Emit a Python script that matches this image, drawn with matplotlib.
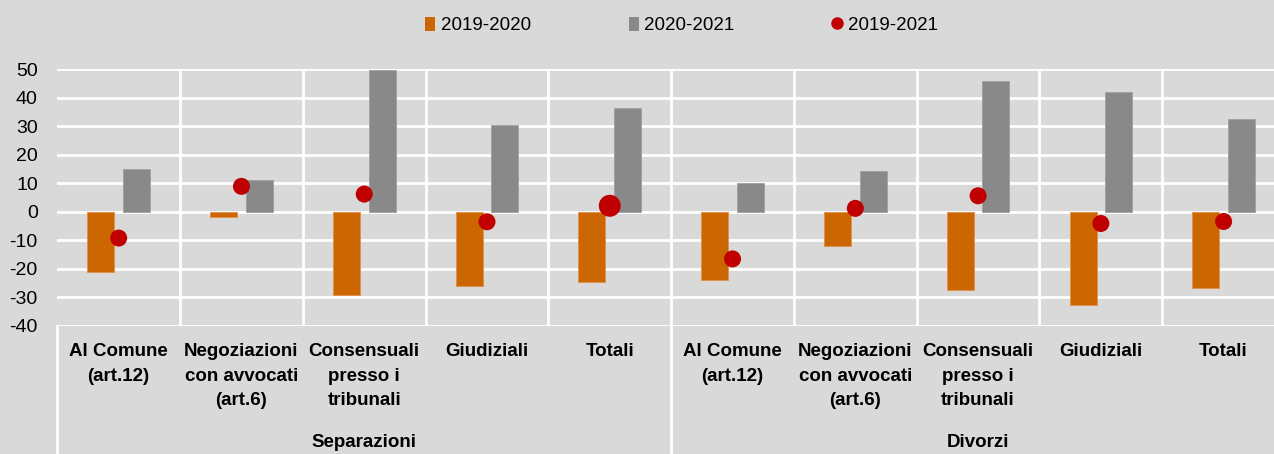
import matplotlib.pyplot as plt
from matplotlib.patches import Patch
from matplotlib.lines import Line2D

# Data (variazioni percentuali)
groups = ["Separazioni", "Divorzi"]
categories = [
    "Al Comune\n(art.12)",
    "Negoziazioni\ncon avvocati\n(art.6)",
    "Consensuali\npresso i\ntribunali",
    "Giudiziali",
    "Totali",
]
var_2019_2020 = [-21, -1.9, -29, -26.1, -24.7, -23.9, -12.1, -27.5, -32.6, -26.8]
var_2020_2021 = [15, 11.2, 49.5, 30.3, 36.3, 10, 14.3, 45.7, 42, 32.5]
var_2019_2021 = [-9.2, 8.9, 6.2, -3.5, 2.1, -16.5, 1.2, 5.6, -4.1, -3.4]
series_labels = ["2019-2020", "2020-2021", "2019-2021"]
yticks = [50, 40, 30, 20, 10, 0, -10, -20, -30, -40]

BG = "#d9d9d9"
ORANGE = "#cc6600"
GREY = "#898989"
RED = "#c00000"
plt.rcParams["font.family"] = ["Liberation Sans", "DejaVu Sans"]

W, H = 1274, 454
fig = plt.figure(figsize=(W / 100, H / 100), dpi=100, facecolor=BG)
left, right, top, bottom = 57.3, 1285, 69, 326
ax = fig.add_axes([left / W, 1 - bottom / H, (right - left) / W, (bottom - top) / H])
ax.set_facecolor(BG)

n = len(var_2019_2020)
x = list(range(n))
bw = 0.22
off = 0.145

for y in yticks:
    ax.axhline(y, color="white", lw=2, zorder=1)
for k in range(1, n):
    ax.axvline(k - 0.5, color="white", lw=2, zorder=1)

ax.bar([i - off for i in x], var_2019_2020, width=bw, color=ORANGE,
       edgecolor="#e0904a", lw=0.6, zorder=2)
ax.bar([i + off for i in x], var_2020_2021, width=bw, color=GREY,
       edgecolor="#a0a0a0", lw=0.6, zorder=2)
sizes = [150] * n
sizes[4] = 250  # punto evidenziato (Totali separazioni)
ax.scatter(x, var_2019_2021, s=sizes, color=RED, zorder=3, linewidths=0)

ax.set_xlim(-0.5, n - 0.5)
ax.set_ylim(-40, 50)
ax.set_yticks(yticks)
ax.set_yticklabels([str(v) for v in yticks])
ax.tick_params(axis="y", length=0, pad=14, labelsize=14)
ax.set_xticks([])
for s in ax.spines.values():
    s.set_visible(False)

# multi-level category axis
tr = ax.get_xaxis_transform()
for i in x:
    ax.text(i, -0.068, categories[i % len(categories)], transform=tr, ha="center",
            va="top", fontsize=13.5, fontweight="bold", linespacing=1.55)
for g, name in enumerate(groups):
    ax.text(g * 5 + 2, -0.485, name, transform=tr, ha="center", va="bottom",
            fontsize=13.5, fontweight="bold")
for xv in [-0.5, 4.5, 9.5]:
    ax.plot([xv, xv], [0, -0.6], transform=tr, color="white", lw=2, clip_on=False)

handles = [
    Patch(facecolor=ORANGE, edgecolor="none"),
    Patch(facecolor=GREY, edgecolor="none"),
    Line2D([], [], marker="o", color=RED, lw=0, markersize=8),
]
fig.legend(handles, series_labels, loc="center", bbox_to_anchor=(0.535, 0.944),
           ncol=3, frameon=False, fontsize=13.5, handlelength=0.55, handleheight=0.8,
           handletextpad=0.3, columnspacing=5.2)

fig.savefig("out.png", dpi=100, facecolor=BG)
